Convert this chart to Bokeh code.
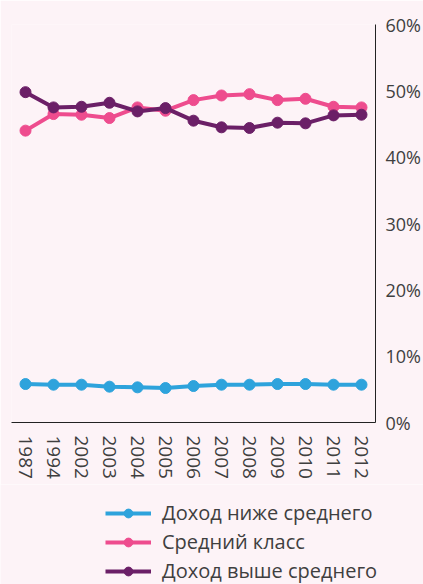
from bokeh.plotting import figure
from bokeh.layouts import column
from bokeh.models import (FactorRange, Range1d, FixedTicker, PrintfTickFormatter,
                          Legend, LegendItem, ColumnDataSource)
from bokeh.embed import file_html
from bokeh.resources import INLINE

years = ["1987", "1994", "2002", "2003", "2004", "2005", "2006",
         "2007", "2008", "2009", "2010", "2011", "2012"]
below_avg = [5.8, 5.7, 5.7, 5.4, 5.3, 5.2, 5.5, 5.7, 5.7, 5.8, 5.8, 5.7, 5.7]
middle = [44.0, 46.5, 46.4, 45.9, 47.5, 47.0, 48.6, 49.3, 49.5, 48.6, 48.8, 47.6, 47.5]
above_avg = [49.8, 47.5, 47.6, 48.2, 46.9, 47.4, 45.5, 44.5, 44.4, 45.2, 45.1, 46.3, 46.4]
y_ticks = [0, 10, 20, 30, 40, 50, 60]

names = ["Доход ниже среднего", "Средний класс", "Доход выше среднего"]
colors = ["#2ea3dc", "#ee4c8e", "#6b1f67"]
series = [below_avg, middle, above_avg]

BG = "#fdf3f7"
FONT = "Open Sans"
TXT = "#3f3f3f"

p = figure(width=423, height=484, x_range=FactorRange(*years, range_padding=0),
           y_range=Range1d(0, 60), y_axis_location="right",
           output_backend="svg", toolbar_location=None,
           min_border_left=11, min_border_top=24, min_border_right=0, min_border_bottom=62)
p.frame_align = False
p.background_fill_color = BG
p.border_fill_color = BG
p.outline_line_color = None
p.xgrid.grid_line_color = None
p.ygrid.grid_line_color = None

sources = []
for name, col, vals in zip(names, colors, series):
    src = ColumnDataSource(dict(x=years, y=vals))
    sources.append(src)
    p.line("x", "y", source=src, line_color=col, line_width=4)
    p.scatter("x", "y", source=src, size=11, fill_color=col, line_color=col)

for ax in (p.xaxis[0], p.yaxis[0]):
    ax.axis_line_color = "#222222"
    ax.axis_line_width = 1
    ax.major_tick_line_color = None
    ax.minor_tick_line_color = None
    ax.major_label_text_font = FONT
    ax.major_label_text_font_size = "19px"
    ax.major_label_text_color = TXT
    ax.major_label_text_font_style = "normal"

p.yaxis.major_label_text_font_size = "18px"
p.xaxis.major_label_orientation = "vertical"
p.xaxis.major_label_standoff = 7
p.yaxis.ticker = FixedTicker(ticks=y_ticks)
p.yaxis.formatter = PrintfTickFormatter(format="%d%%")
p.yaxis.major_label_standoff = 4

# Legend panel below the chart (its own canvas; the series lie outside its view)
lg = figure(width=423, height=100, x_range=FactorRange(*years, range_padding=0),
            y_range=Range1d(100, 101),
            x_axis_type=None, y_axis_type=None,
            output_backend="svg", toolbar_location=None,
            min_border_left=0, min_border_right=0, min_border_top=0, min_border_bottom=0)
lg.frame_align = False
lg.background_fill_color = BG
lg.border_fill_color = BG
lg.outline_line_color = None
lg.xgrid.grid_line_color = None
lg.ygrid.grid_line_color = None

items = []
for name, col, src in zip(names, colors, sources):
    r1 = lg.line("x", "y", source=src, line_color=col, line_width=4)
    r2 = lg.scatter("x", "y", source=src, size=10, fill_color=col, line_color=col)
    items.append(LegendItem(label=name, renderers=[r1, r2]))

legend = Legend(items=items, location=(105, 0), orientation="vertical",
                label_text_font=FONT, label_text_font_size="20px", label_text_color=TXT,
                glyph_width=46, glyph_height=22, label_height=22, label_standoff=11,
                spacing=2, padding=0, margin=0,
                background_fill_alpha=0, border_line_color=None)
lg.add_layout(legend)

layout = column(p, lg, spacing=0)
open("out.html", "w").write(file_html(layout, INLINE))
